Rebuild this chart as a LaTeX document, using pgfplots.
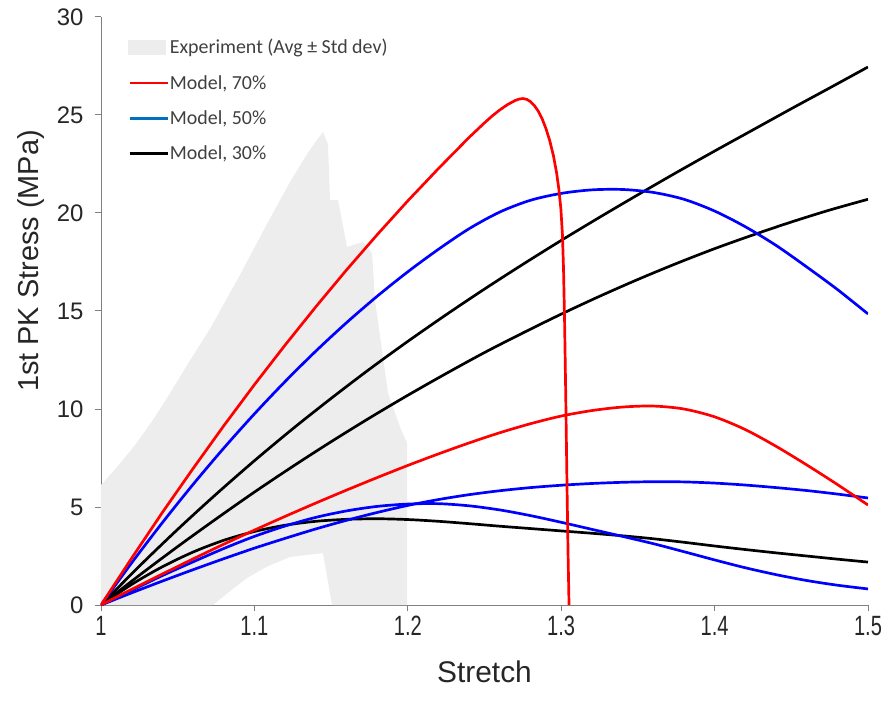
\documentclass[border=0pt]{standalone}
\usepackage{fontspec}
\setmainfont{Liberation Sans}
\newfontfamily\carlito{Carlito}
\usepackage{graphicx}
\usepackage{pgfplots}
\pgfplotsset{compat=1.18}
\definecolor{expgray}{HTML}{EDEDED}
\definecolor{axgray}{HTML}{808080}
\definecolor{txtgray}{HTML}{262626}
\definecolor{leggray}{HTML}{404040}
\definecolor{legblue}{HTML}{0070C0}
\newcommand\sx[1]{\scalebox{0.72}[1]{#1}}
\begin{document}
\begin{tikzpicture}
\begin{axis}[
  name=ax,
  scale only axis,
  width=767bp, height=588bp,
  xmin=1, xmax=1.5, ymin=0, ymax=30,
  axis lines*=left,
  axis line style={axgray, line width=1pt},
  tick style={axgray, line width=1pt},
  tick align=outside,
  major tick length=6bp,
  xtick={1,1.1,1.2,1.3,1.4,1.5},
  xticklabels={\sx{1},\sx{1.1},\sx{1.2},\sx{1.3},\sx{1.4},\sx{1.5}},
  ytick={0,5,10,15,20,25,30},
  /pgf/number format/assume math mode=true,
  x tick label style={font=\fontsize{28}{30}\selectfont, text=txtgray, yshift=-2bp},
  y tick label style={font=\fontsize{24}{26}\selectfont, text=txtgray, xshift=-8bp},
  xlabel={Stretch},
  ylabel={1st PK Stress (MPa)},
  xlabel style={font=\fontsize{30}{32}\selectfont, text=txtgray, at={(axis description cs:0.5,0)}, anchor=north, yshift=-52bp},
  ylabel style={font=\fontsize{29}{31}\selectfont, text=txtgray, at={(axis description cs:0,0.585)}, anchor=center, yshift=70bp},
  legend cell align=left,
  legend style={draw=none, fill=none, at={(rel axis cs:0,1)}, anchor=north west, xshift=27bp, yshift=-20bp,
    font=\carlito\fontsize{20}{22}\selectfont, text=leggray, row sep=16bp, inner sep=0pt,
    nodes={inner xsep=1bp}},
  clip=true,
  every axis plot/.append style={line width=2.7pt},
]
% Experiment band (avg +/- std dev)
\addplot[fill=expgray, draw=none, forget plot, line width=0pt] coordinates {
(1.0000,0) (1.0000,6.12) (1.0111,7.10) (1.0222,8.16) (1.0330,9.35) (1.0430,10.55) (1.0570,12.35) (1.0711,14.10) (1.0906,16.84)
(1.1082,19.44) (1.1232,21.58) (1.1343,23.00) (1.1400,23.65) (1.1447,24.13) (1.1480,23.5) (1.1493,20.66)
(1.1545,20.66) (1.1604,18.27) (1.1708,18.52) (1.1767,17.96) (1.1786,15.56) (1.1871,10.82)
(1.1949,9.08) (1.1995,8.27) (1.1995,0) (1.1506,0) (1.1447,2.65) (1.1232,2.45)
(1.1080,1.95) (1.0952,1.38) (1.0840,0.70) (1.0730,0)
} -- cycle;
% Model 30% (black)
\addplot[black, smooth, forget plot] coordinates {
(1,0) (1.025,1.98) (1.05,3.86) (1.075,5.65) (1.1,7.36) (1.125,8.99) (1.15,10.54)
(1.175,12.03) (1.2,13.45) (1.225,14.81) (1.25,16.12) (1.275,17.38) (1.3,18.60)
(1.325,19.78) (1.35,20.93) (1.375,22.06) (1.4,23.16) (1.425,24.24) (1.45,25.32)
(1.475,26.38) (1.5,27.45)};
\addplot[black, smooth, forget plot] coordinates {
(1,0) (1.025,1.515) (1.05,2.98) (1.075,4.39) (1.1,5.76) (1.125,7.07) (1.15,8.33)
(1.175,9.54) (1.2,10.70) (1.225,11.81) (1.25,12.88) (1.275,13.88) (1.3,14.84)
(1.325,15.75) (1.35,16.61) (1.375,17.42) (1.4,18.18) (1.425,18.88) (1.45,19.54)
(1.475,20.15) (1.5,20.70)};
\addplot[black, smooth, forget plot] coordinates {
(1,0) (1.02,1.05) (1.04,1.95) (1.06,2.70) (1.08,3.30) (1.10,3.75) (1.12,4.07)
(1.14,4.27) (1.16,4.37) (1.18,4.40) (1.20,4.36) (1.22,4.27) (1.24,4.15) (1.26,4.02)
(1.28,3.90) (1.30,3.78) (1.32,3.66) (1.34,3.53) (1.36,3.38) (1.38,3.20) (1.40,3.01)
(1.42,2.83) (1.44,2.66) (1.46,2.50) (1.48,2.34) (1.50,2.19)};
% Model 50% (blue)
\addplot[blue, smooth, forget plot] coordinates {
(1,0) (1.02,2.15) (1.04,4.20) (1.06,6.15) (1.08,8.00) (1.10,9.75) (1.12,11.40)
(1.14,12.95) (1.16,14.40) (1.18,15.75) (1.20,17.00) (1.22,18.15) (1.24,19.20)
(1.26,20.05) (1.28,20.65) (1.30,21.00) (1.32,21.18) (1.34,21.20) (1.36,21.05)
(1.38,20.70) (1.40,20.10) (1.42,19.30) (1.44,18.35) (1.46,17.25) (1.48,16.10) (1.50,14.85)};
\addplot[blue, smooth, forget plot] coordinates {
(1,0) (1.02,0.62) (1.04,1.22) (1.06,1.80) (1.08,2.36) (1.10,2.90) (1.12,3.40)
(1.14,3.88) (1.16,4.32) (1.18,4.72) (1.20,5.08) (1.22,5.38) (1.24,5.63) (1.26,5.83)
(1.28,5.99) (1.30,6.11) (1.32,6.20) (1.34,6.26) (1.36,6.29) (1.38,6.28) (1.40,6.22)
(1.42,6.12) (1.44,5.99) (1.46,5.84) (1.48,5.66) (1.50,5.46)};
\addplot[blue, smooth, forget plot] coordinates {
(1,0) (1.02,0.75) (1.04,1.50) (1.06,2.20) (1.08,2.88) (1.10,3.50) (1.12,4.03)
(1.14,4.47) (1.16,4.80) (1.18,5.03) (1.20,5.15) (1.22,5.17) (1.24,5.06) (1.26,4.85)
(1.28,4.56) (1.30,4.22) (1.32,3.86) (1.34,3.50) (1.36,3.13) (1.38,2.72) (1.40,2.30)
(1.42,1.90) (1.44,1.55) (1.46,1.25) (1.48,1.01) (1.50,0.82)};
% Model 70% (red)
\addplot[red, forget plot] coordinates {
(1,0) (1.02,2.39) (1.04,4.72) (1.06,6.96) (1.08,9.14) (1.10,11.24) (1.12,13.26)
(1.14,15.21) (1.16,17.09) (1.18,18.89) (1.20,20.62) (1.22,22.27) (1.24,23.86)
(1.25,24.60) (1.255,24.95) (1.26,25.26) (1.265,25.53) (1.27,25.74) (1.2725,25.81) (1.275,25.84)
(1.2775,25.80) (1.28,25.68) (1.2825,25.48) (1.285,25.20) (1.2875,24.82) (1.29,24.32)
(1.2925,23.70) (1.295,22.90) (1.297,22.05) (1.2985,21.2) (1.2998,20.2) (1.3008,18.9)
(1.3015,17.2) (1.3022,14.5) (1.3030,10.5) (1.3038,6.0) (1.3045,2.5) (1.3051,0)};
\addplot[red, smooth, forget plot] coordinates {
(1,0) (1.02,0.80) (1.04,1.58) (1.06,2.35) (1.08,3.10) (1.10,3.82) (1.12,4.52)
(1.14,5.20) (1.16,5.86) (1.18,6.50) (1.20,7.12) (1.22,7.71) (1.24,8.27) (1.26,8.79)
(1.28,9.25) (1.30,9.64) (1.32,9.92) (1.34,10.10) (1.36,10.15) (1.38,10.00) (1.40,9.60)
(1.42,8.95) (1.44,8.10) (1.46,7.15) (1.48,6.15) (1.50,5.10)};
% legend
\addlegendimage{legend image code/.code={\fill[expgray] (0bp,-6bp) rectangle (35bp,6bp);}}
\addlegendentry{Experiment (Avg ± Std dev)}
\addlegendimage{legend image code/.code={\draw[red, line width=2.7pt] (0bp,0bp) -- (38bp,0bp);}}
\addlegendentry{Model, 70\%}
\addlegendimage{legend image code/.code={\draw[legblue, line width=2.7pt] (0bp,0bp) -- (38bp,0bp);}}
\addlegendentry{Model, 50\%}
\addlegendimage{legend image code/.code={\draw[black, line width=2.7pt] (0bp,0bp) -- (38bp,0bp);}}
\addlegendentry{Model, 30\%}
\end{axis}
\path ([shift={(-101bp,-97bp)}]ax.south west) rectangle ([shift={(23bp,17bp)}]ax.north east);
\end{tikzpicture}
\end{document}
